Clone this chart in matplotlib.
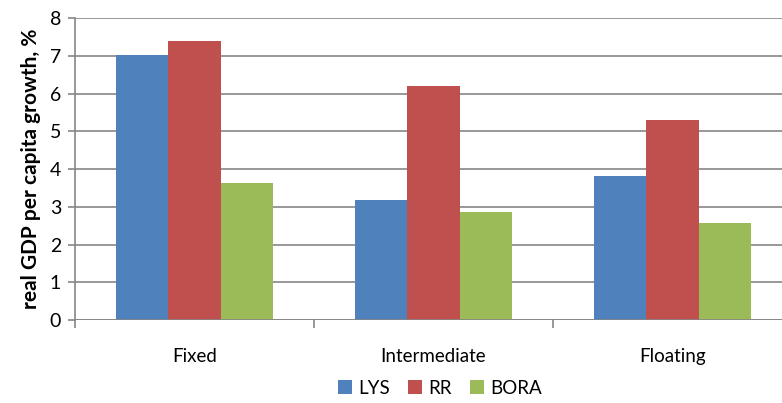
import matplotlib.pyplot as plt
import numpy as np

plt.rcParams['font.family'] = ['Lato', 'DejaVu Sans']

categories = ['Fixed', 'Intermediate', 'Floating']
lys = [7.02, 3.17, 3.81]
rr = [7.40, 6.20, 5.31]
bora = [3.63, 2.85, 2.57]

colors = ['#4f81bd', '#c0504d', '#9bbb59']
grid_col = '#868686'

fig = plt.figure(figsize=(7.82, 4.03), dpi=100)
ax = fig.add_axes([0.0959, 0.206, 0.9041, 0.749])

ind = np.arange(len(categories))
width = 0.22

b1 = ax.bar(ind - width, lys, width, color=colors[0], zorder=3)
b2 = ax.bar(ind, rr, width, color=colors[1], zorder=3)
b3 = ax.bar(ind + width, bora, width, color=colors[2], zorder=3)

ax.set_xlim(-0.5, 2.458)
ax.set_ylim(0, 8)
ax.set_yticks(range(0, 9))
ax.yaxis.grid(True, color=grid_col, linewidth=1.2, zorder=0)
ax.set_axisbelow(True)

for s in ['top', 'right', 'bottom']:
    ax.spines[s].set_visible(False)
ax.spines['left'].set_color(grid_col)
ax.spines['left'].set_linewidth(1.2)
ax.axhline(0, color=grid_col, linewidth=1.2, zorder=4)

ax.tick_params(axis='y', length=5, width=1.2, color=grid_col, labelsize=14, pad=5)
# category boundary ticks, labels in between
ax.set_xticks([-0.5, 0.5, 1.5])
ax.set_xticklabels([])
ax.set_xticks(ind, minor=True)
ax.set_xticklabels(categories, minor=True, fontsize=13.5)
ax.tick_params(axis='x', which='major', length=6, width=1.2, color=grid_col)
ax.tick_params(axis='x', which='minor', length=0, pad=20)

ax.set_ylabel('real GDP per capita growth, %', fontsize=15, fontweight='bold', labelpad=6)

fig.legend((b1[0], b2[0], b3[0]), ('LYS', 'RR', 'BORA'), loc='center',
           bbox_to_anchor=(440 / 782, 1 - 388 / 403), ncol=3, frameon=False,
           fontsize=13.5, handlelength=0.75, handleheight=0.75, handletextpad=0.3,
           columnspacing=1.0)

fig.savefig('out.png', dpi=100)
